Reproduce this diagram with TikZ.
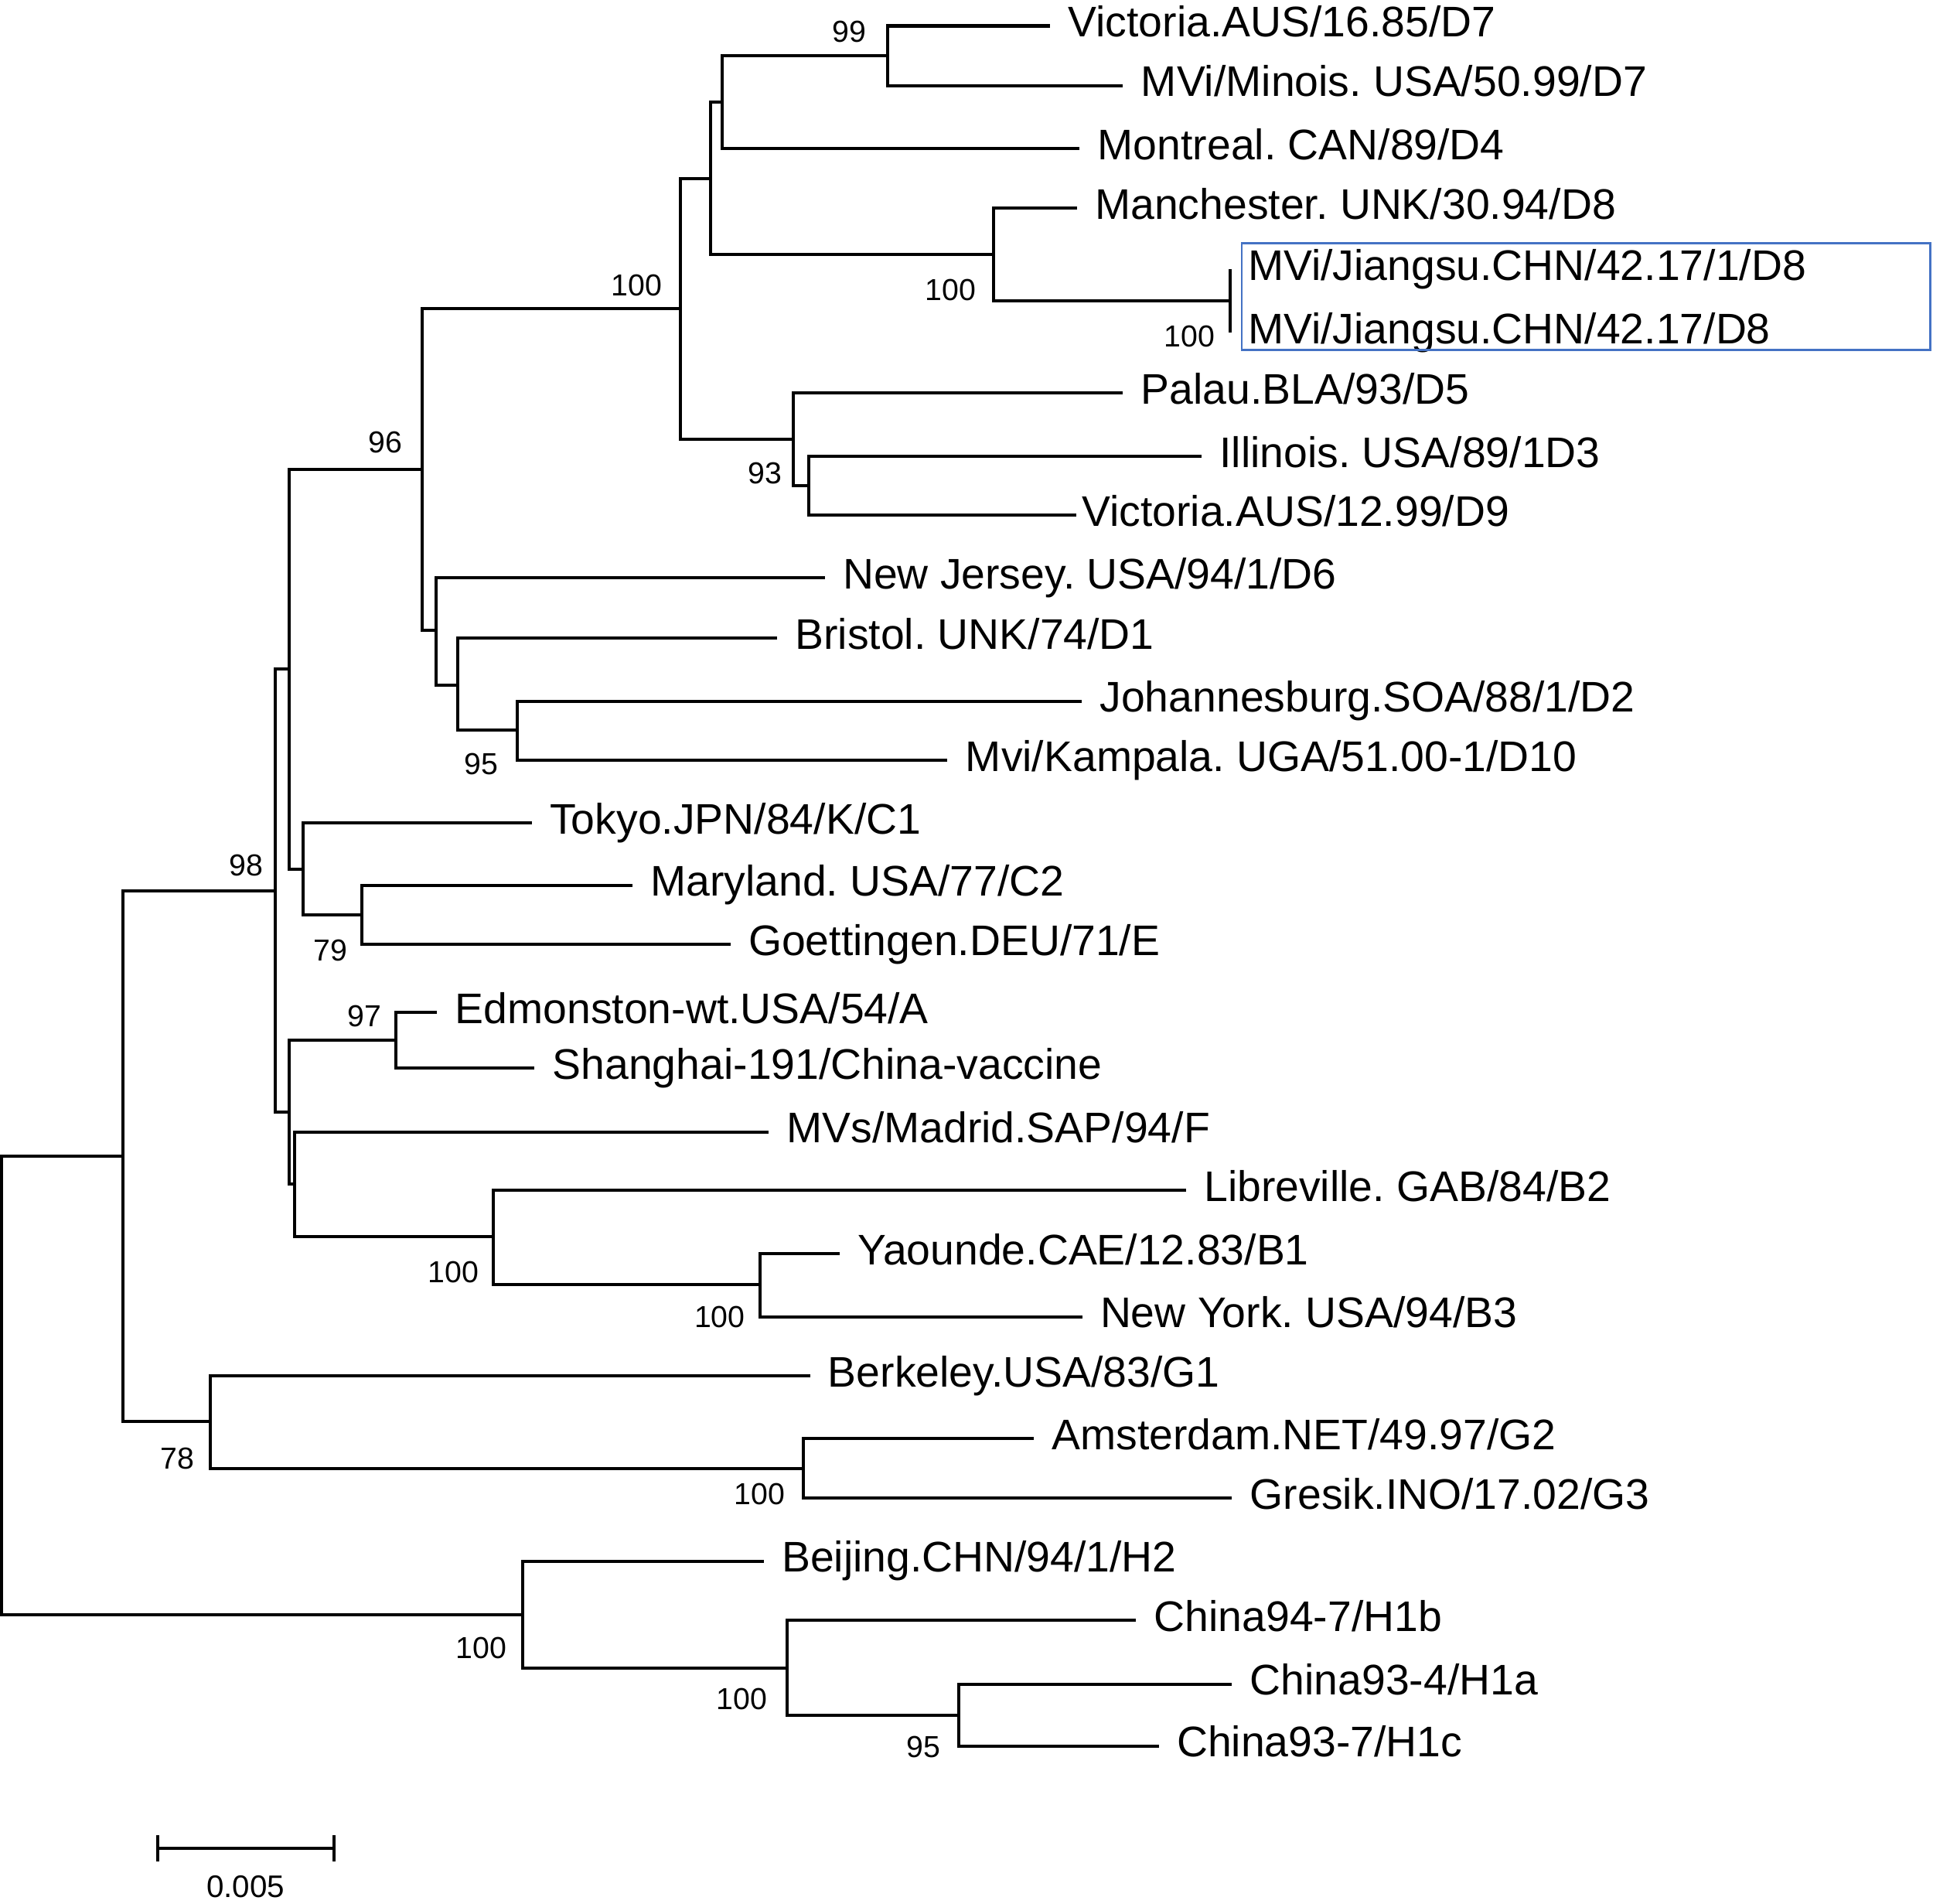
\documentclass[tikz,border=0pt]{standalone}
\usepackage{fontspec}
\setmainfont{Liberation Sans}
\usetikzlibrary{arrows.meta,positioning}
\definecolor{boxblue}{RGB}{68,114,196}
\frenchspacing

\begin{document}
\begin{tikzpicture}[
    x=0.01cm, y=-0.01cm,
    branch/.style={line width=0.72pt, color=black},
    leaf/.style={anchor=west, inner xsep=0.14cm, inner ysep=0pt, text height=0.25cm, text depth=0.073cm, font=\fontsize{9.87}{11.8}\selectfont},
    boot/.style={inner sep=0pt, font=\fontsize{7}{8.4}\selectfont},
    hilite/.style={draw=boxblue, line width=0.5pt}
]

\useasboundingbox (0,0) rectangle (1568,1544);

% internal nodes of the tree
\coordinate (root) at (1.5,1123.8);
\coordinate (nA) at (100,937.8);
\coordinate (nB) at (223.3,722.6);
\coordinate (nC) at (234.7,542.7);
\coordinate (n96) at (342.7,380.6);
\coordinate (nD) at (552,250.5);
\coordinate (nD1) at (576.6,144.7);
\coordinate (nD2) at (585.6,83);
\coordinate (n99) at (720,45.2);
\coordinate (nD8) at (806,206.5);
\coordinate (nJ) at (997.7,244.1);
\coordinate (n93) at (643.8,356);
\coordinate (nI) at (656,394);
\coordinate (nF) at (354,511);
\coordinate (nBr) at (371.5,555.5);
\coordinate (n95a) at (419.5,592.3);
\coordinate (nT) at (245.7,704.8);
\coordinate (n79) at (293.8,742);
\coordinate (nE) at (234.7,902);
\coordinate (n97) at (321,843.6);
\coordinate (nM) at (238.8,960);
\coordinate (nL) at (400,1003);
\coordinate (nY) at (616.3,1042);
\coordinate (n78) at (170.8,1153);
\coordinate (nG) at (651.5,1190.9);
\coordinate (nH) at (424,1309.8);
\coordinate (nH1) at (638.4,1352.6);
\coordinate (n95b) at (777.6,1391);

% leaves
\node[leaf] (vic16) at (851.8,21) {Victoria.AUS/16.85/D7};
\node[leaf] (minois) at (911,69.4) {MVi/Minois. USA/50.99/D7};
\node[leaf] (montreal) at (875.8,120.4) {Montreal. CAN/89/D4};
\node[leaf] (manch) at (873.6,168.8) {Manchester. UNK/30.94/D8};
\node[leaf] (jiangsuA) at (997.7,218.5) {MVi/Jiangsu.CHN/42.17/1/D8};
\node[leaf] (jiangsuB) at (997.7,269.7) {MVi/Jiangsu.CHN/42.17/D8};
\node[leaf] (palau) at (911,318.6) {Palau.BLA/93/D5};
\node[leaf] (illinois) at (974.7,370) {Illinois. USA/89/1D3};
\node[leaf, inner xsep=0.04cm] (vic12) at (873,418) {Victoria.AUS/12.99/D9};
\node[leaf] (jersey) at (669,468.8) {New Jersey. USA/94/1/D6};
\node[leaf] (bristol) at (630.3,517.4) {Bristol. UNK/74/D1};
\node[leaf] (johan) at (877.5,568.6) {Johannesburg.SOA/88/1/D2};
\node[leaf] (kampala) at (768.6,616.5) {Mvi/Kampala. UGA/51.00-1/D10};
\node[leaf] (tokyo) at (431.4,667.5) {Tokyo.JPN/84/K/C1};
\node[leaf] (maryland) at (513,718) {Maryland. USA/77/C2};
\node[leaf] (goett) at (592.5,766) {Goettingen.DEU/71/E};
\node[leaf] (edmon) at (354.6,821) {Edmonston-wt.USA/54/A};
\node[leaf] (shanghai) at (433.6,866.2) {Shanghai-191/China-vaccine};
\node[leaf] (madrid) at (623.4,918) {MVs/Madrid.SAP/94/F};
\node[leaf] (libre) at (962,965.5) {Libreville. GAB/84/B2};
\node[leaf] (yaounde) at (681,1016.7) {Yaounde.CAE/12.83/B1};
\node[leaf] (newyork) at (877.8,1067.9) {New York. USA/94/B3};
\node[leaf] (berkeley) at (657,1115.8) {Berkeley.USA/83/G1};
\node[leaf] (amster) at (838.6,1166.7) {Amsterdam.NET/49.97/G2};
\node[leaf] (gresik) at (999.4,1215) {Gresik.INO/17.02/G3};
\node[leaf] (beijing) at (619.5,1266.2) {Beijing.CHN/94/1/H2};
\node[leaf] (china947) at (921.6,1314.2) {China94-7/H1b};
\node[leaf] (china934) at (999.4,1365.8) {China93-4/H1a};
\node[leaf] (china937) at (940,1416) {China93-7/H1c};

% branches
\draw[branch] (root) |- (nA);
\draw[branch] (root) |- (nH);
\draw[branch] (nA) |- (nB);
\draw[branch] (nA) |- (n78);
\draw[branch] (nB) |- (nC);
\draw[branch] (nB) |- (nE);
\draw[branch] (nC) |- (n96);
\draw[branch] (nC) |- (nT);
\draw[branch] (n96) |- (nD);
\draw[branch] (n96) |- (nF);
\draw[branch] (nD) |- (nD1);
\draw[branch] (nD) |- (n93);
\draw[branch] (nD1) |- (nD2);
\draw[branch] (nD1) |- (nD8);
\draw[branch] (nD2) |- (n99);
\draw[branch] (nD2) |- (montreal.west);
\draw[branch] (n99) |- (vic16.west);
\draw[branch] (n99) |- (minois.west);
\draw[branch] (nD8) |- (manch.west);
\draw[branch] (nD8) |- (nJ);
\draw[branch] (nJ) |- (jiangsuA.west);
\draw[branch] (nJ) |- (jiangsuB.west);
\draw[branch] (n93) |- (palau.west);
\draw[branch] (n93) |- (nI);
\draw[branch] (nI) |- (illinois.west);
\draw[branch] (nI) |- (vic12.west);
\draw[branch] (nF) |- (jersey.west);
\draw[branch] (nF) |- (nBr);
\draw[branch] (nBr) |- (bristol.west);
\draw[branch] (nBr) |- (n95a);
\draw[branch] (n95a) |- (johan.west);
\draw[branch] (n95a) |- (kampala.west);
\draw[branch] (nT) |- (tokyo.west);
\draw[branch] (nT) |- (n79);
\draw[branch] (n79) |- (maryland.west);
\draw[branch] (n79) |- (goett.west);
\draw[branch] (nE) |- (n97);
\draw[branch] (nE) |- (nM);
\draw[branch] (n97) |- (edmon.west);
\draw[branch] (n97) |- (shanghai.west);
\draw[branch] (nM) |- (madrid.west);
\draw[branch] (nM) |- (nL);
\draw[branch] (nL) |- (libre.west);
\draw[branch] (nL) |- (nY);
\draw[branch] (nY) |- (yaounde.west);
\draw[branch] (nY) |- (newyork.west);
\draw[branch] (n78) |- (berkeley.west);
\draw[branch] (n78) |- (nG);
\draw[branch] (nG) |- (amster.west);
\draw[branch] (nG) |- (gresik.west);
\draw[branch] (nH) |- (beijing.west);
\draw[branch] (nH) |- (nH1);
\draw[branch] (nH1) |- (china947.west);
\draw[branch] (nH1) |- (n95b);
\draw[branch] (n95b) |- (china934.west);
\draw[branch] (n95b) |- (china937.west);

% bootstrap values
\node[boot] (b99) at (688.7,25.8) {99};
\node[boot] (b100d) at (516.6,231.7) {100};
\node[boot] (b100m) at (771,235.2) {100};
\node[boot] (b100j) at (964.8,272.7) {100};
\node[boot] (b96) at (312.6,358.5) {96};
\node[boot] (b93) at (620.5,384) {93};
\node[boot] (b95a) at (390.6,619.9) {95};
\node[boot] (b98) at (199.5,702) {98};
\node[boot] (b79) at (268,770.5) {79};
\node[boot] (b97) at (295.5,824) {97};
\node[boot] (b100l) at (368,1032) {100};
\node[boot] (b100y) at (583.8,1068) {100};
\node[boot] (b78) at (143.8,1182.7) {78};
\node[boot] (b100g) at (616,1212) {100};
\node[boot] (b100h) at (390.5,1336.3) {100};
\node[boot] (b100h1) at (601.8,1378) {100};
\node[boot] (b95b) at (749.3,1416.8) {95};

% highlighted strains
\draw[hilite] (1007.3,197.1) rectangle (1566,283.7);

% scale bar
\coordinate (barL) at (126.5,1499);
\coordinate (barR) at (272.2,1499);
\draw[branch, {Bar[width=0.21cm]}-{Bar[width=0.21cm]}] (barL) -- (barR);
\node[boot, font=\fontsize{7.2}{8.6}\selectfont] (barlab) at (199.2,1530) {0.005};

\end{tikzpicture}
\end{document}
